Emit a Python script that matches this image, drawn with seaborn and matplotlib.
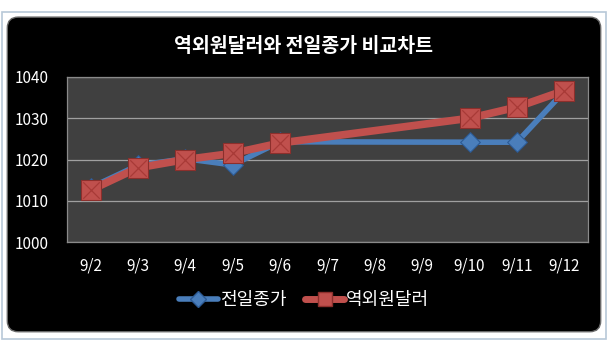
import numpy as np
import pandas as pd
import matplotlib
matplotlib.use("Agg")
import matplotlib.pyplot as plt
from matplotlib.patches import FancyBboxPatch, Rectangle
from matplotlib.lines import Line2D
import seaborn as sns

sns.set_theme(style="dark")
plt.rcParams["font.family"] = ["Noto Sans CJK KR", "DejaVu Sans"]

dates = ["9/2", "9/3", "9/4", "9/5", "9/6", "9/7", "9/8", "9/9", "9/10", "9/11", "9/12"]
prev_close = [1013.2, 1018.6, 1020.2, 1018.7, 1024.3, np.nan, np.nan, np.nan, 1024.2, 1024.2, 1036.5]
offshore = [1012.6, 1018.0, 1020.0, 1021.5, 1024.0, np.nan, np.nan, np.nan, 1030.0, 1032.7, 1036.7]
series_names = ["전일종가", "역외원달러"]
yticks = [1000, 1010, 1020, 1030, 1040]

df = pd.DataFrame({
    "pos": list(range(len(dates))) * 2,
    "value": prev_close + offshore,
    "series": [series_names[0]] * len(dates) + [series_names[1]] * len(dates),
}).dropna()

blue, blue_dark = "#4a7ebb", "#2c5a94"
red, red_dark = "#c0504d", "#8c2f2c"

fig = plt.figure(figsize=(6.08, 3.42), dpi=100)
fig.patch.set_facecolor("white")

# outer frame and rounded black chart area
fig.add_artist(Rectangle((0.003, 0.01), 0.994, 0.955, transform=fig.transFigure,
                         facecolor="none", edgecolor="#b8c8d8", lw=1.2, zorder=-20))
fig.add_artist(FancyBboxPatch((0.012, 0.03), 0.976, 0.92,
                              boxstyle="round,pad=0,rounding_size=0.018",
                              transform=fig.transFigure, facecolor="black",
                              edgecolor="#6a6a6a", lw=1.0, mutation_aspect=608 / 342,
                              zorder=-10))

ax = fig.add_axes([0.110, 0.292, 0.857, 0.483])
ax.set_zorder(1)
ax.set_facecolor("#404040")

palette = {series_names[0]: blue, series_names[1]: red}
sns.lineplot(data=df, x="pos", y="value", hue="series", palette=palette,
             ax=ax, legend=False, sort=True, estimator=None)
for line, lw in zip(ax.lines, [4.0, 5.5]):
    line.set_linewidth(lw)
    line.set_solid_joinstyle("round")

b = df[df["series"] == series_names[0]]
r = df[df["series"] == series_names[1]]
ax.scatter(b["pos"], b["value"], marker="D", s=100, color=blue,
           edgecolor=blue_dark, linewidth=0.8, zorder=4)
ax.scatter(r["pos"], r["value"], marker="s", s=190, color=red,
           edgecolor=red_dark, linewidth=0.8, zorder=5)
ax.scatter(r["pos"], r["value"], marker="x", s=140, color="#a83a37",
           linewidth=0.9, zorder=6)

ax.set_xlim(-0.5, len(dates) - 0.5)
ax.set_ylim(1000, 1040)
ax.set_xticks(range(len(dates)))
ax.set_xticklabels(dates)
ax.set_yticks(yticks)
ax.set_yticklabels([str(t) for t in yticks])
ax.set_xlabel("")
ax.set_ylabel("")
ax.grid(axis="y", color="#a0a0a0", lw=0.9)
ax.grid(axis="x", visible=False)
ax.tick_params(axis="both", colors="white", labelsize=11, length=0)
ax.tick_params(axis="y", pad=13)
ax.tick_params(axis="x", pad=11)
for s in ax.spines.values():
    s.set_visible(True)
    s.set_color("#8a8a8a")
    s.set_linewidth(0.9)

fig.text(0.5, 0.865, "역외원달러와 전일종가 비교차트", color="white",
         fontsize=14, fontweight="bold", ha="center", va="center")

handles = [
    Line2D([], [], color=blue, lw=4, marker="D", markersize=8,
           markerfacecolor=blue, markeredgecolor=blue_dark),
    Line2D([], [], color=red, lw=5, marker="s", markersize=10,
           markerfacecolor=red, markeredgecolor=red_dark),
]
leg = fig.legend(handles, series_names, loc="center", bbox_to_anchor=(0.5, 0.123),
                 ncol=2, frameon=False, fontsize=13, handlelength=2.2,
                 handletextpad=0.1, columnspacing=1.0)
for t in leg.get_texts():
    t.set_color("white")

fig.savefig("out.png", dpi=100, facecolor=fig.get_facecolor())
